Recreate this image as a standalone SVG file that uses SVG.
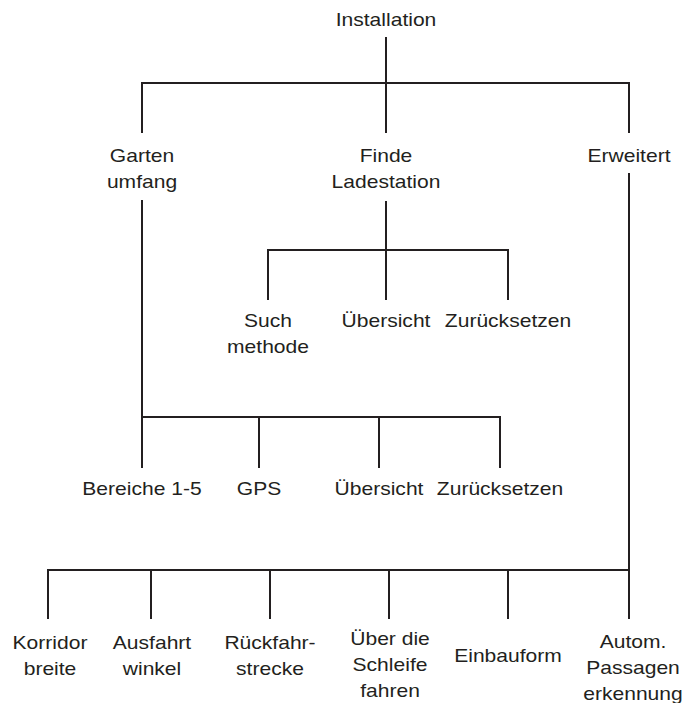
<svg xmlns="http://www.w3.org/2000/svg" width="687" height="703" viewBox="0 0 687 703">
<style>
.t{font-family:"Liberation Sans",Arial,sans-serif;font-size:18px;fill:#231f20;text-anchor:middle}
.c{stroke:#231f20;stroke-width:2;fill:none}
</style>
<rect width="687" height="703" fill="#fff"/>
<g id="connectors" class="c">
<path d="M386,37V83M142,83H629M142,82V133M386,83V133M629,82V133"/>
<path d="M386,201V250M268,250H508M268,249V300M386,250V300M508,249V300"/>
<path d="M142,200V468M142,417H500M259,417V468M379,417V468M500,416V468"/>
<path d="M629,173V619M48,570H630M48,569V619M151,570V619M270,570V619M389,570V619M508,570V619"/>
</g>
<g id="n-installation"><text class="t" transform="translate(386,26) scale(1.17,1)">Installation</text></g>
<g id="n-garten"><text class="t" transform="translate(142,162) scale(1.17,1)"><tspan x="0">Garten</tspan><tspan x="0" dy="26">umfang</tspan></text></g>
<g id="n-finde"><text class="t" transform="translate(386,162) scale(1.17,1)"><tspan x="0">Finde</tspan><tspan x="0" dy="26">Ladestation</tspan></text></g>
<g id="n-erweitert"><text class="t" transform="translate(629,162) scale(1.17,1)">Erweitert</text></g>
<g id="n-such"><text class="t" transform="translate(268,327) scale(1.17,1)"><tspan x="0">Such</tspan><tspan x="0" dy="26">methode</tspan></text></g>
<g id="n-uebersicht1"><text class="t" transform="translate(386,327) scale(1.17,1)">Übersicht</text></g>
<g id="n-zuruecksetzen1"><text class="t" transform="translate(508,327) scale(1.17,1)">Zurücksetzen</text></g>
<g id="n-bereiche"><text class="t" transform="translate(142,495) scale(1.17,1)">Bereiche 1-5</text></g>
<g id="n-gps"><text class="t" transform="translate(259,495) scale(1.17,1)">GPS</text></g>
<g id="n-uebersicht2"><text class="t" transform="translate(379,495) scale(1.17,1)">Übersicht</text></g>
<g id="n-zuruecksetzen2"><text class="t" transform="translate(500,495) scale(1.17,1)">Zurücksetzen</text></g>
<g id="n-korridor"><text class="t" transform="translate(50,649) scale(1.17,1)"><tspan x="0">Korridor</tspan><tspan x="0" dy="26">breite</tspan></text></g>
<g id="n-ausfahrt"><text class="t" transform="translate(152,649) scale(1.17,1)"><tspan x="0">Ausfahrt</tspan><tspan x="0" dy="26">winkel</tspan></text></g>
<g id="n-rueckfahr"><text class="t" transform="translate(270,649) scale(1.17,1)"><tspan x="0">Rückfahr-</tspan><tspan x="0" dy="26">strecke</tspan></text></g>
<g id="n-ueber"><text class="t" transform="translate(390,645) scale(1.17,1)"><tspan x="0">Über die</tspan><tspan x="0" dy="26">Schleife</tspan><tspan x="0" dy="26">fahren</tspan></text></g>
<g id="n-einbauform"><text class="t" transform="translate(508,662) scale(1.17,1)">Einbauform</text></g>
<g id="n-autom"><text class="t" transform="translate(633,648) scale(1.17,1)"><tspan x="0">Autom.</tspan><tspan x="0" dy="26">Passagen</tspan><tspan x="0" dy="26">erkennung</tspan></text></g>
</svg>
